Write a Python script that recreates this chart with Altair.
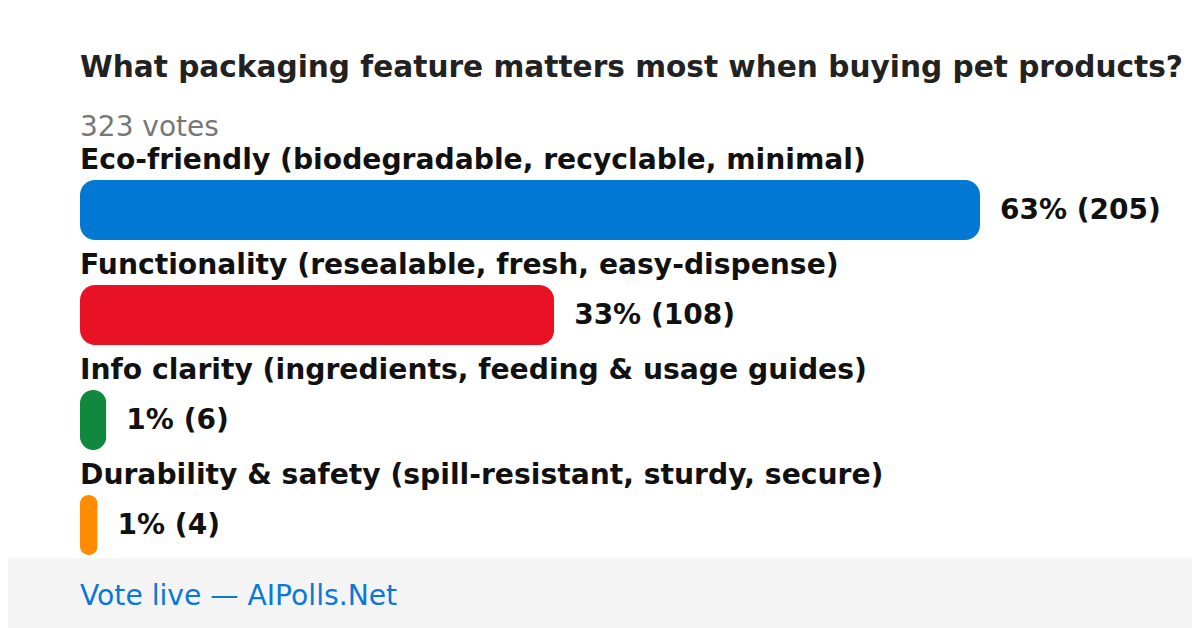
import altair as alt
import pandas as pd

title_text = "What packaging feature matters most when buying pet products?"
subtitle_text = "323 votes"
footer_text = "Vote live \u2014 AIPolls.Net"

options = [
    "Eco-friendly (biodegradable, recyclable, minimal)",
    "Functionality (resealable, fresh, easy-dispense)",
    "Info clarity (ingredients, feeding & usage guides)",
    "Durability & safety (spill-resistant, sturdy, secure)",
]
votes = [205, 108, 6, 4]
percents = [63, 33, 1, 1]
colors = ["#0078d4", "#e81224", "#10893e", "#ff8c00"]

df = pd.DataFrame({
    "option": options,
    "votes": votes,
    "label": [f"{p}% ({v})" for p, v in zip(percents, votes)],
})

W, H = 1184, 620
FONT = "DejaVu Sans"

yscale = alt.Scale(type="band", domain=options, range=[172, 547],
                   paddingInner=45 / 105, paddingOuter=0)
xscale = alt.Scale(domain=[0, 205], range=[72, 972], zero=True, nice=False)

base = alt.Chart(df)

bars = base.mark_bar(cornerRadius=15).encode(
    x=alt.X("votes:Q", scale=xscale, axis=None),
    y=alt.Y("option:N", scale=yscale, axis=None, sort=options),
    color=alt.Color("option:N", scale=alt.Scale(domain=options, range=colors), legend=None),
)

cat_labels = base.mark_text(
    align="left", baseline="alphabetic", dy=-41, font=FONT, fontSize=28.2,
    fontWeight="bold", color="#111111",
).encode(
    x=alt.value(72),
    y=alt.Y("option:N", scale=yscale, axis=None, sort=options),
    text="option:N",
)

val_labels = base.mark_text(
    align="left", baseline="alphabetic", dx=20, dy=9, font=FONT, fontSize=28,
    fontWeight="bold", color="#111111",
).encode(
    x=alt.X("votes:Q", scale=xscale, axis=None),
    y=alt.Y("option:N", scale=yscale, axis=None, sort=options),
    text="label:N",
)

one = pd.DataFrame({"t": [title_text], "s": [subtitle_text], "f": [footer_text]})
single = alt.Chart(one)

footer_band = single.mark_rect(color="#f4f4f4").encode(
    x=alt.value(0), x2=alt.value(W), y=alt.value(550), y2=alt.value(H)
)
footer = single.mark_text(
    align="left", baseline="alphabetic", font=FONT, fontSize=28.2, color="#0a78d4"
).encode(x=alt.value(72), y=alt.value(597), text="f:N")

title = single.mark_text(
    align="left", baseline="alphabetic", font=FONT, fontSize=29.6,
    fontWeight="bold", color="#222222",
).encode(x=alt.value(72), y=alt.value(69), text="t:N")

subtitle = single.mark_text(
    align="left", baseline="alphabetic", font=FONT, fontSize=28, color="#777777"
).encode(x=alt.value(72), y=alt.value(128), text="s:N")

chart = alt.layer(
    footer_band, footer, title, subtitle, bars, cat_labels, val_labels
).properties(
    width=W, height=H, autosize=alt.AutoSizeParams(type="none"), padding=0,
    background="white",
).configure_view(stroke=None).resolve_scale(color="independent")

chart.save("out.html", embed_options={"renderer": "svg", "actions": False})
